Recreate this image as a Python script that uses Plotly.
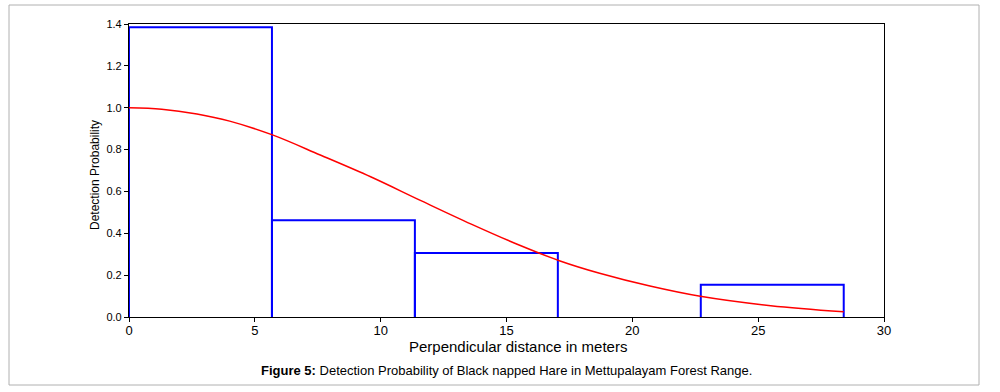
import plotly.graph_objects as go

# Histogram bins (perpendicular distance, m) and scaled frequencies
bin_edges = [0.0, 5.68, 11.36, 17.04, 22.72, 28.4]
bin_heights = [1.385, 0.462, 0.306, 0.0, 0.154]

# Fitted detection function
curve_x = [0.0, 1.3, 2.7, 4.0, 5.7, 7.6, 9.6, 11.6, 13.6, 15.5, 17.1, 18.7, 20.7, 22.7, 25.5, 28.4]
curve_y = [1.0, 0.993, 0.97, 0.936, 0.87, 0.774, 0.67, 0.556, 0.444, 0.344, 0.269, 0.209, 0.148, 0.099, 0.054, 0.025]

x_ticks = [0, 5, 10, 15, 20, 25, 30]
y_ticks = [0.0, 0.2, 0.4, 0.6, 0.8, 1.0, 1.2, 1.4]

# Outline of the histogram bars (no bottom edge, which lies on the axis)
hist_x, hist_y = [], []
for left, right, h in zip(bin_edges[:-1], bin_edges[1:], bin_heights):
    if h <= 0:
        continue
    hist_x += [left, left, right, right, None]
    hist_y += [0, h, h, 0, None]

W, H = 1000, 392
L, R, T, B = 129, 116, 24, 75
pw, ph = W - L - R, H - T - B


def px(x):
    return (x - L) / pw


def py(y):
    return (H - B - y) / ph


fig = go.Figure()
fig.add_trace(go.Scatter(
    x=hist_x, y=hist_y, mode="lines", line=dict(color="#0000ff", width=2),
    hoverinfo="skip", showlegend=False, connectgaps=False,
))
fig.add_trace(go.Scatter(
    x=curve_x, y=curve_y, mode="lines",
    line=dict(color="#ff0000", width=1.5, shape="spline", smoothing=1.0),
    showlegend=False,
))

font = "Liberation Sans, Arial, sans-serif"
fig.update_layout(
    width=W, height=H,
    margin=dict(l=L, r=R, t=T, b=B),
    paper_bgcolor="white", plot_bgcolor="white",
    font=dict(family=font, size=12, color="#000"),
    xaxis=dict(range=[0, 30], tickvals=x_ticks, ticks="outside", ticklen=4, tickwidth=1,
               tickcolor="#000", showline=True, linecolor="#000", linewidth=1.2, mirror=True,
               showgrid=False, zeroline=False, ticklabelstandoff=-3,
               tickfont=dict(size=13, color="#000")),
    yaxis=dict(range=[0, 1.4], tickvals=y_ticks, tickformat=".1f", ticks="outside", ticklen=4,
               tickwidth=1, tickcolor="#000", showline=True, linecolor="#000", linewidth=1.2,
               mirror=True, showgrid=False, zeroline=False, tickfont=dict(size=11, color="#000")),
    shapes=[dict(type="rect", xref="paper", yref="paper",
                 x0=px(9), x1=px(979), y0=py(385), y1=py(5),
                 line=dict(color="#b0b0b0", width=1), layer="below")],
    annotations=[
        dict(text="Perpendicular distance in meters", xref="paper", yref="paper",
             x=px(518), y=py(346), xanchor="center", yanchor="middle", showarrow=False,
             font=dict(size=15, color="#000")),
        dict(text="Detection Probability", xref="paper", yref="paper", textangle=-90,
             x=px(95), y=py(175), xanchor="center", yanchor="middle", showarrow=False,
             font=dict(size=12, color="#000")),
        dict(text="<b>Figure 5:</b> Detection Probability of Black napped Hare in Mettupalayam Forest Range.",
             xref="paper", yref="paper", x=px(506), y=py(370), xanchor="center", yanchor="middle",
             showarrow=False, font=dict(size=13, color="#000")),
    ],
)

fig.write_html(
    "out.html",
    config={"displayModeBar": False},
    post_script="document.body.style.margin='0';document.body.style.padding='0';",
)
